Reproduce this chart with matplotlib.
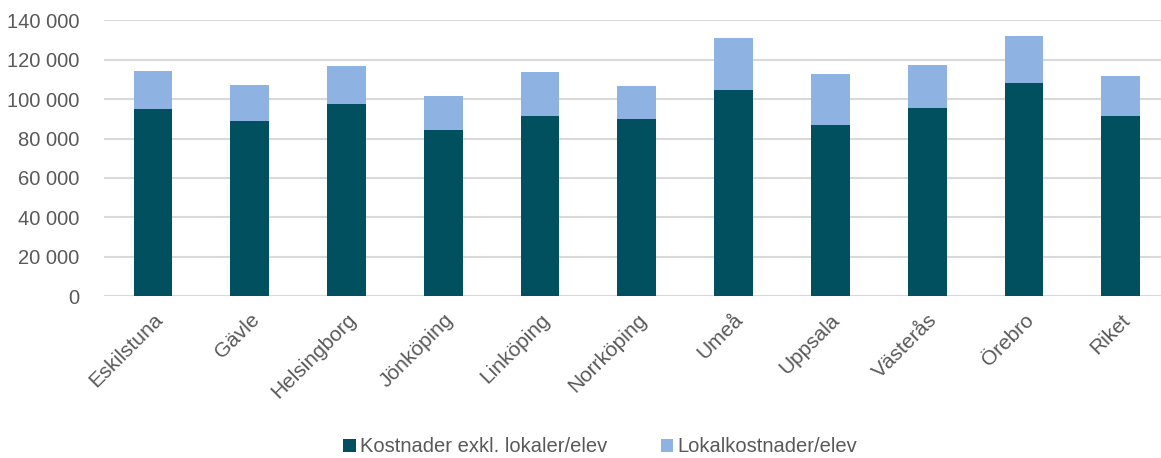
import matplotlib
matplotlib.use("Agg")
import matplotlib.pyplot as plt
import numpy as np
from matplotlib.ticker import FuncFormatter

kommuner = ["Eskilstuna", "Gävle", "Helsingborg", "Jönköping", "Linköping",
            "Norrköping", "Umeå", "Uppsala", "Västerås", "Örebro", "Riket"]
kostnad_exkl = [95200, 88900, 97500, 84200, 91300, 89900, 104600, 86700, 95700, 108100, 91300]
totalt = [114200, 107300, 116800, 101800, 113700, 106600, 130800, 112600, 117500, 131800, 111700]
lokal = [t - k for t, k in zip(totalt, kostnad_exkl)]

DARK = "#01505F"
LIGHT = "#8EB3E2"
TXT = "#595959"
GRID = "#D9D9D9"

plt.rcParams.update({
    "font.family": ["Liberation Sans", "DejaVu Sans"],
    "font.size": 14.5,
})

fig = plt.figure(figsize=(11.61, 4.58), dpi=100)
ax = fig.add_axes([0.0900, 0.353, 0.917, 0.603])

x = np.arange(len(kommuner))
ax.bar(x, kostnad_exkl, width=0.4, color=DARK, label="Kostnader exkl. lokaler/elev", zorder=3)
ax.bar(x, lokal, width=0.4, bottom=kostnad_exkl, color=LIGHT,
       label="Lokalkostnader/elev", zorder=3)

ax.set_ylim(0, 140000)
ax.set_xlim(-0.5, len(kommuner) - 0.5)
ax.set_yticks(np.arange(0, 140001, 20000))
ax.yaxis.set_major_formatter(FuncFormatter(lambda v, _: f"{int(v):,}".replace(",", " ")))
ax.grid(axis="y", color=GRID, lw=1.5, zorder=0)
for s in ax.spines.values():
    s.set_visible(False)
ax.tick_params(axis="y", length=0, pad=18, colors=TXT, labelsize=14.5)
ax.tick_params(axis="x", length=0, pad=10, colors=TXT, labelsize=15)
ax.set_xticks(x)
ax.set_xticklabels(kommuner, rotation=45, ha="right", rotation_mode="anchor")

fig.legend(loc="center", bbox_to_anchor=(0.517, 1 - 447 / 458), ncol=2, frameon=False,
           handlelength=0.6, handleheight=0.6, handletextpad=0.2, columnspacing=2.7,
           fontsize=14.5, labelcolor=TXT)

fig.savefig("out.png", dpi=100)
